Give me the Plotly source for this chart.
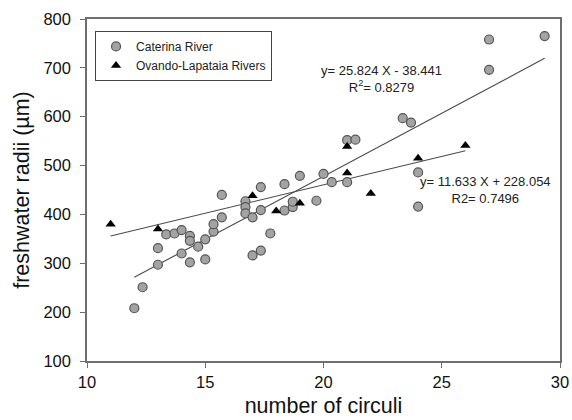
import numpy as np
import plotly.graph_objects as go

# Caterina River (circles)
caterina_circuli = [
    12.0, 12.35, 13.0, 13.0, 13.35, 13.7, 14.0, 14.0, 14.35, 14.35, 14.35, 14.7,
    15.0, 15.0, 15.35, 15.35, 15.7, 15.7, 16.7, 16.7, 16.7, 17.0, 17.0, 17.35,
    17.35, 17.35, 17.75, 18.35, 18.35, 18.7, 18.7, 19.0, 19.7, 20.0, 20.35, 21.0,
    21.0, 21.35, 23.35, 23.7, 24.0, 24.0, 27.0, 27.0, 29.35,
]
caterina_radii = [
    208, 251, 297, 331, 359, 361, 368, 320, 356, 346, 302, 334,
    349, 308, 365, 380, 394, 440, 427, 415, 402, 394, 316, 456,
    409, 326, 361, 462, 408, 415, 426, 479, 428, 483, 466, 466,
    552, 553, 597, 588, 486, 416, 758, 696, 765,
]

# Ovando-Lapataia Rivers (triangles)
ovando_circuli = [11, 13, 17, 18, 19, 21, 21, 22, 24, 26]
ovando_radii = [380, 370, 438, 407, 423, 539, 485, 443, 515, 541]

# regression coefficients as printed on the chart
caterina_fit = (25.824, -38.441)
ovando_fit = (11.633, 228.054)

x_ticks = [10, 15, 20, 25, 30]
y_ticks = [100, 200, 300, 400, 500, 600, 700, 800]

FONT = "Liberation Sans, Arial, sans-serif"
AXIS_GRAY = "#6e6e6e"


def fit_line(xs, coef):
    xr = np.array([min(xs), max(xs)])
    return xr, coef[0] * xr + coef[1]


fig = go.Figure()

cx, cy = fit_line(caterina_circuli, caterina_fit)
fig.add_trace(go.Scatter(x=cx, y=cy, mode="lines", showlegend=False,
                         line=dict(color="#4a4a4a", width=1.1)))
ox, oy = fit_line(ovando_circuli, ovando_fit)
fig.add_trace(go.Scatter(x=ox, y=oy, mode="lines", showlegend=False,
                         line=dict(color="#4a4a4a", width=1.1)))

fig.add_trace(go.Scatter(
    x=caterina_circuli, y=caterina_radii, mode="markers", name="Caterina River",
    marker=dict(symbol="circle", size=9, color="#a3a3a3",
                line=dict(color="#555555", width=1.2)),
))
fig.add_trace(go.Scatter(
    x=ovando_circuli, y=ovando_radii, mode="markers", name="Ovando-Lapataia Rivers",
    marker=dict(symbol="triangle-up", size=9, color="#000000",
                line=dict(color="#000000", width=0)),
))

fig.add_annotation(x=22.47, y=678, xref="x", yref="y", showarrow=False,
                   text="y= 25.824 X - 38.441<br>R<sup>2</sup>= 0.8279",
                   font=dict(family=FONT, size=13, color="#222222"), align="center")
fig.add_annotation(x=26.87, y=449, xref="x", yref="y", showarrow=False,
                   text="y= 11.633 X + 228.054<br>R2= 0.7496",
                   font=dict(family=FONT, size=13, color="#222222"), align="center")

axis_common = dict(
    showgrid=False, zeroline=False, showline=True, linecolor=AXIS_GRAY, linewidth=1.5,
    mirror=True, ticks="outside", ticklen=5, tickcolor=AXIS_GRAY, tickwidth=1.2,
    tickfont=dict(family=FONT, size=16.5, color="#111111"), automargin=False,
)

fig.update_layout(
    width=572, height=420,
    margin=dict(l=87, r=12, t=19, b=59),
    paper_bgcolor="white", plot_bgcolor="white",
    font=dict(family=FONT, color="#111111"),
    xaxis=dict(range=[10, 30], tickvals=x_ticks,
               title=dict(text="number of circuli", font=dict(family=FONT, size=21.5), standoff=8),
               **axis_common),
    yaxis=dict(range=[100, 800], tickvals=y_ticks, ticklabelstandoff=6,
               title=dict(text="freshwater radii (µm)", font=dict(family=FONT, size=21.5), standoff=8),
               **axis_common),
    legend=dict(x=0.017, y=0.965, xanchor="left", yanchor="top",
                bgcolor="white", bordercolor="#444444", borderwidth=1,
                font=dict(family=FONT, size=12, color="#222222"),
                tracegroupgap=0),
)

# the page body has a default 8px margin; drop it so the figure sits at (0, 0)
fig.write_html("out.html", config={"displayModeBar": False},
               post_script="document.body.style.margin='0';")
